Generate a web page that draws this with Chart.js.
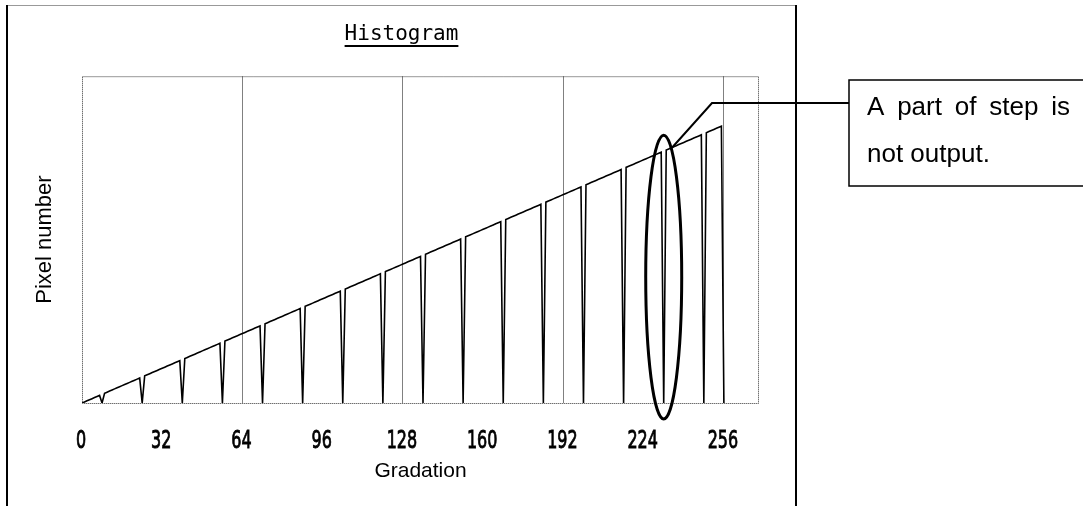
<!DOCTYPE html>
<html>
<head>
<meta charset="utf-8">
<script src="https://cdn.jsdelivr.net/npm/chart.js@4"></script>
<style>
  html, body { margin: 0; padding: 0; background: #fff; }
  canvas { display: block; }
</style>
</head>
<body>
<canvas id="histogram" width="1083" height="506"></canvas>
<script>
// pixel count per gradation level 0..256
// (every 16th level starting at 8 drops to zero)
const pixelCounts = [
  0, 1, 2, 3, 4, 5, 6, 7, 0, 9, 10, 11, 12, 13, 14, 15,
  16, 17, 18, 19, 20, 21, 22, 23, 0, 25, 26, 27, 28, 29, 30, 31,
  32, 33, 34, 35, 36, 37, 38, 39, 0, 41, 42, 43, 44, 45, 46, 47,
  48, 49, 50, 51, 52, 53, 54, 55, 0, 57, 58, 59, 60, 61, 62, 63,
  64, 65, 66, 67, 68, 69, 70, 71, 0, 73, 74, 75, 76, 77, 78, 79,
  80, 81, 82, 83, 84, 85, 86, 87, 0, 89, 90, 91, 92, 93, 94, 95,
  96, 97, 98, 99, 100, 101, 102, 103, 0, 105, 106, 107, 108, 109, 110, 111,
  112, 113, 114, 115, 116, 117, 118, 119, 0, 121, 122, 123, 124, 125, 126, 127,
  128, 129, 130, 131, 132, 133, 134, 135, 0, 137, 138, 139, 140, 141, 142, 143,
  144, 145, 146, 147, 148, 149, 150, 151, 0, 153, 154, 155, 156, 157, 158, 159,
  160, 161, 162, 163, 164, 165, 166, 167, 0, 169, 170, 171, 172, 173, 174, 175,
  176, 177, 178, 179, 180, 181, 182, 183, 0, 185, 186, 187, 188, 189, 190, 191,
  192, 193, 194, 195, 196, 197, 198, 199, 0, 201, 202, 203, 204, 205, 206, 207,
  208, 209, 210, 211, 212, 213, 214, 215, 0, 217, 218, 219, 220, 221, 222, 223,
  224, 225, 226, 227, 228, 229, 230, 231, 0, 233, 234, 235, 236, 237, 238, 239,
  240, 241, 242, 243, 244, 245, 246, 247, 0, 249, 250, 251, 252, 253, 254, 255,
  0
];
const tickValues = [0, 32, 64, 96, 128, 160, 192, 224, 256];
const gridValues = [64, 128, 192, 256];
const markedLevel = 232;
const noteLines = ['A part of step is', 'not output.'];

// frame, dotted plot border, narrow tick labels, underline, ellipse and the callout
const decorations = {
  id: 'decorations',
  beforeDatasetsDraw(chart) {
    const { ctx, chartArea: a } = chart;
    ctx.save();
    ctx.strokeStyle = '#333';
    ctx.lineWidth = 1;
    ctx.setLineDash([1, 1]);
    ctx.strokeRect(a.left + 0.5, a.top + 0.5, a.right - a.left - 1, a.bottom - a.top);
    ctx.restore();
  },
  afterDraw(chart) {
    const { ctx, chartArea: a } = chart;
    const xs = chart.scales.x;
    ctx.save();

    // outer frame (open at the bottom)
    ctx.strokeStyle = '#999';
    ctx.lineWidth = 1;
    ctx.beginPath();
    ctx.moveTo(7, 5.5); ctx.lineTo(797, 5.5);
    ctx.stroke();
    ctx.strokeStyle = '#000';
    ctx.lineWidth = 2;
    ctx.beginPath();
    ctx.moveTo(7, 5); ctx.lineTo(7, 506);
    ctx.moveTo(796, 5); ctx.lineTo(796, 506);
    ctx.stroke();

    // x tick labels, condensed like the original gothic digits
    ctx.fillStyle = '#000';
    ctx.font = "25px 'DejaVu Sans'";
    ctx.textAlign = 'center';
    ctx.textBaseline = 'alphabetic';
    ctx.lineWidth = 0.9;
    xs.ticks.forEach(t => {
      const px = xs.getPixelForValue(t.value);
      ctx.save();
      ctx.translate(px - 1, 448);
      ctx.scale(0.64, 1);
      ctx.fillText(String(t.value), 0, 0);
      ctx.strokeText(String(t.value), 0, 0);
      ctx.restore();
    });

    // title underline
    const tb = chart.titleBlock;
    ctx.font = tb.options.font.size + 'px ' + tb.options.font.family;
    const tw = ctx.measureText(tb.options.text).width;
    const tx = (tb.left + tb.right) / 2;
    ctx.lineWidth = 2;
    ctx.beginPath();
    ctx.moveTo(tx - tw / 2, 46); ctx.lineTo(tx + tw / 2, 46);
    ctx.stroke();

    // ellipse round the marked step
    const cx = xs.getPixelForValue(markedLevel);
    const top = a.top + 59, bottom = a.bottom + 16;
    ctx.lineWidth = 3;
    ctx.beginPath();
    ctx.ellipse(cx, (top + bottom) / 2, 18, (bottom - top) / 2, 0, 0, Math.PI * 2);
    ctx.stroke();

    // leader line and note box
    ctx.lineWidth = 2;
    ctx.beginPath();
    ctx.moveTo(cx + 8, 148);
    ctx.lineTo(712, 103);
    ctx.lineTo(849, 103);
    ctx.stroke();
    ctx.lineWidth = 1.5;
    ctx.strokeRect(849, 80, 260, 106);

    ctx.font = "26px 'Liberation Sans', Arial, sans-serif";
    ctx.textAlign = 'left';
    // first line justified across the box
    const words = noteLines[0].split(' ');
    const x0 = 867, x1 = 1070;
    const wordsWidth = words.reduce((s, w) => s + ctx.measureText(w).width, 0);
    const gap = (x1 - x0 - wordsWidth) / (words.length - 1);
    let wx = x0;
    words.forEach(w => { ctx.fillText(w, wx, 115); wx += ctx.measureText(w).width + gap; });
    ctx.fillText(noteLines[1], x0, 162);
    ctx.restore();
  }
};

new Chart(document.getElementById('histogram'), {
  type: 'line',
  data: {
    datasets: [{
      label: 'Pixel number',
      data: pixelCounts.map((count, level) => ({ x: level, y: count })),
      borderColor: '#000',
      borderWidth: 1.6,
      pointRadius: 0,
      tension: 0,
      fill: false
    }]
  },
  options: {
    responsive: false,
    animation: false,
    layout: { padding: { left: 30, right: 310, top: 0, bottom: 0 } },
    plugins: {
      legend: { display: false },
      tooltip: { enabled: false },
      title: {
        display: true,
        text: 'Histogram',
        color: '#000',
        font: { family: "'DejaVu Sans Mono'", size: 21, weight: 'normal' },
        padding: { top: 22, bottom: 29 }
      }
    },
    scales: {
      x: {
        type: 'linear',
        min: 0,
        max: 270,
        afterBuildTicks: s => { s.ticks = tickValues.map(v => ({ value: v })); },
        afterFit: s => { s.height = 103; },
        ticks: { display: false },
        grid: {
          drawTicks: false,
          lineWidth: 1,
          color: c => gridValues.includes(c.tick && c.tick.value) ? '#808080' : 'rgba(0,0,0,0)'
        },
        border: { display: false },
        title: {
          display: true,
          text: 'Gradation',
          color: '#000',
          font: { family: "'Liberation Sans'", size: 21 },
          padding: { top: 0, bottom: 22 }
        }
      },
      y: {
        min: 0,
        max: 301,
        afterFit: s => { s.width = 52; },
        ticks: { display: false },
        grid: { display: false },
        border: { display: false },
        title: {
          display: true,
          text: 'Pixel number',
          color: '#000',
          font: { family: "'Liberation Sans'", size: 22 },
          padding: { top: 2, bottom: 0 }
        }
      },
      y2: {
        axis: 'y',
        position: 'right',
        afterFit: s => { s.width = 14; },
        ticks: { display: false },
        grid: { display: false },
        border: { display: false }
      }
    }
  },
  plugins: [decorations]
});
</script>
</body>
</html>
